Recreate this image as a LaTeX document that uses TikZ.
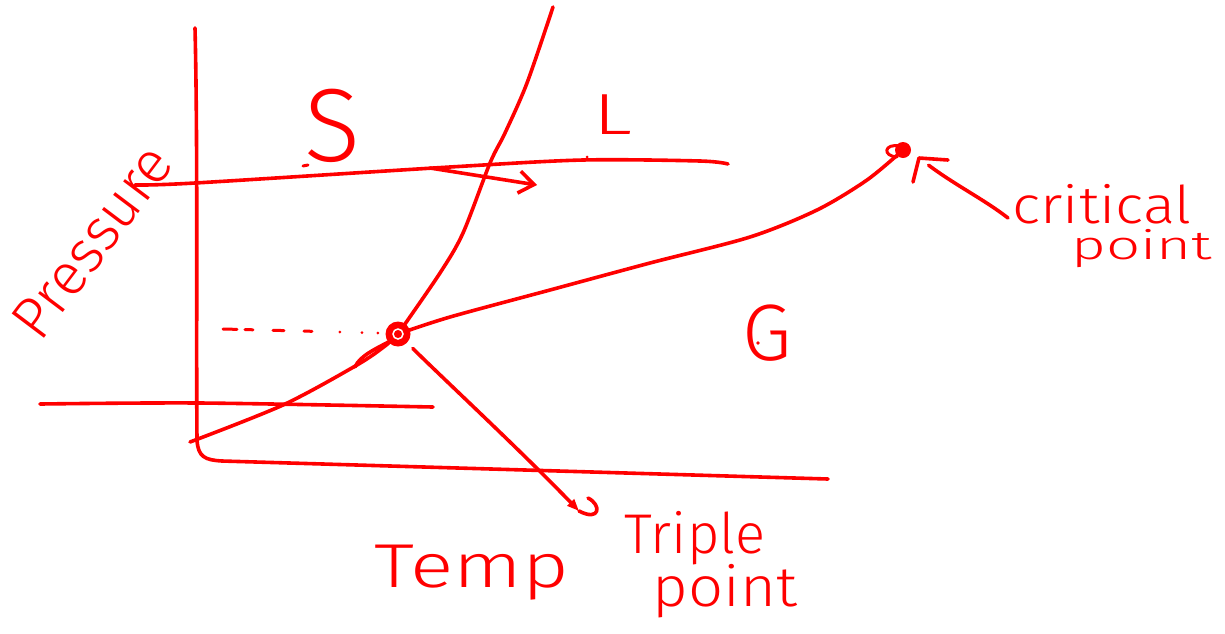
\documentclass[tikz,border=0pt]{standalone}
\usepackage{fontspec}
\setmainfont{Fira Sans}[UprightFont=* Light]
\usetikzlibrary{arrows.meta}
\definecolor{ink}{RGB}{255,0,0}
\begin{document}
\begin{tikzpicture}[x=1pt,y=-1pt,
  pen/.style={draw=ink, line width=3.6pt, line cap=round, line join=round},
  lbl/.style={text=ink, inner sep=0pt, anchor=base},
  barb/.style={-{Straight Barb[length=15pt,width=22pt]}},
  tri/.style={-{Triangle[length=12pt,width=9pt]}},
  straydot/.style={fill=ink},
]
\useasboundingbox (0,0) rectangle (1225,633);

% axes and isobars
\draw[pen] (195,28) .. controls (198,150) and (196,330) .. (197,440)
  .. controls (198,457) and (205,460) .. (222,461) -- (828,479);
\draw[pen] plot[smooth] coordinates {(135,185) (195,183) (450,167) (583,160) (700,161) (728,164)};
\draw[pen] plot[smooth] coordinates {(40,404) (200,403) (433,407)};

% points
\node[circle, fill=ink, minimum size=25pt, inner sep=0pt] (TP) at (398,334) {};
\node[circle, fill=ink, minimum size=16pt, inner sep=0pt] (CP) at (903,150) {};

% phase boundaries
\draw[pen] plot[smooth] coordinates {(TP.center) (440,273) (463,233) (490,163) (505,133) (527,83) (553,7)};
\draw[pen] plot[smooth] coordinates {(TP.center) (385,346) (357,365) (283,405) (190,442)};
\draw[pen] (355,367) .. controls (360,355) and (378,348) .. (392,340);
\draw[pen] plot[smooth] coordinates {(TP.center) (450,317) (550,290) (650,263) (750,237) (817,210) (867,180) (CP.center)};
\draw[draw=white, line width=1.5pt] (TP.center) circle (5pt);
\draw[pen, line width=3pt] (900,146) .. controls (884,143) and (882,156) .. (897,157);

% dotted line to the pressure axis
\coordinate (d0) at (223,329);
\coordinate (d1) at (378,333);
\draw[pen, line width=3pt, dash pattern=on 14pt off 8pt on 8pt off 20pt on 11pt off 20pt on 8pt off 28pt on 0pt off 22pt on 0pt off 16pt on 0pt off 40pt] (d0) -- (d1);

% heating arrow
\coordinate (pa) at (430,168);
\coordinate (pb) at (537,185);
\draw[pen, barb] (pa) -- (pb);

% labels
\node[lbl, font=\fontsize{104}{104}\selectfont] (S) at (333,161) {S};
\node[lbl, font=\fontsize{58}{58}\selectfont, xscale=1.4] (L) at (613,134) {L};
\node[lbl, font=\fontsize{80}{80}\selectfont] (G) at (767,360) {G};
\node[text=ink, inner sep=0pt, anchor=center, rotate=53, font=\fontsize{59}{59}\selectfont] (pres) at (92,242) {Pressure};
\node[lbl, font=\fontsize{62}{62}\selectfont, xscale=1.3] (temp) at (472,587) {Temp};
\node[lbl, font=\fontsize{56}{56}\selectfont] (trip1) at (695,553) {Triple};
\node[lbl, font=\fontsize{56}{56}\selectfont, xscale=1.1] (trip2) at (725,606) {point};
\node[lbl, font=\fontsize{52}{52}\selectfont, xscale=1.15] (crit1) at (1102,223) {critical};
\node[lbl, font=\fontsize{40}{40}\selectfont, xscale=1.5] (crit2) at (1142,259) {point};

% stray marks
\draw[pen, line width=3pt] (303,166) -- (308,165);
\fill[straydot] (587,157) circle (1.5pt);
\fill[straydot] (758,343) circle (1.8pt);

% triple point pointer
\coordinate (tpEnd) at (579,511);
\draw[pen, tri, shorten <=8pt] (TP) .. controls (450,385) and (520,450) .. (tpEnd);
\draw[pen] (tpEnd) .. controls (600,522) and (602,505) .. (588,498);

% critical point pointer
\coordinate (cStart) at (1008,218);
\coordinate (cTip) at (919,158);
\draw[pen, shorten >=12pt] (cStart) .. controls (985,200) and (955,185) .. (cTip);
\draw[pen] (913,182) -- (cTip) -- (948,160);
\end{tikzpicture}
\end{document}
